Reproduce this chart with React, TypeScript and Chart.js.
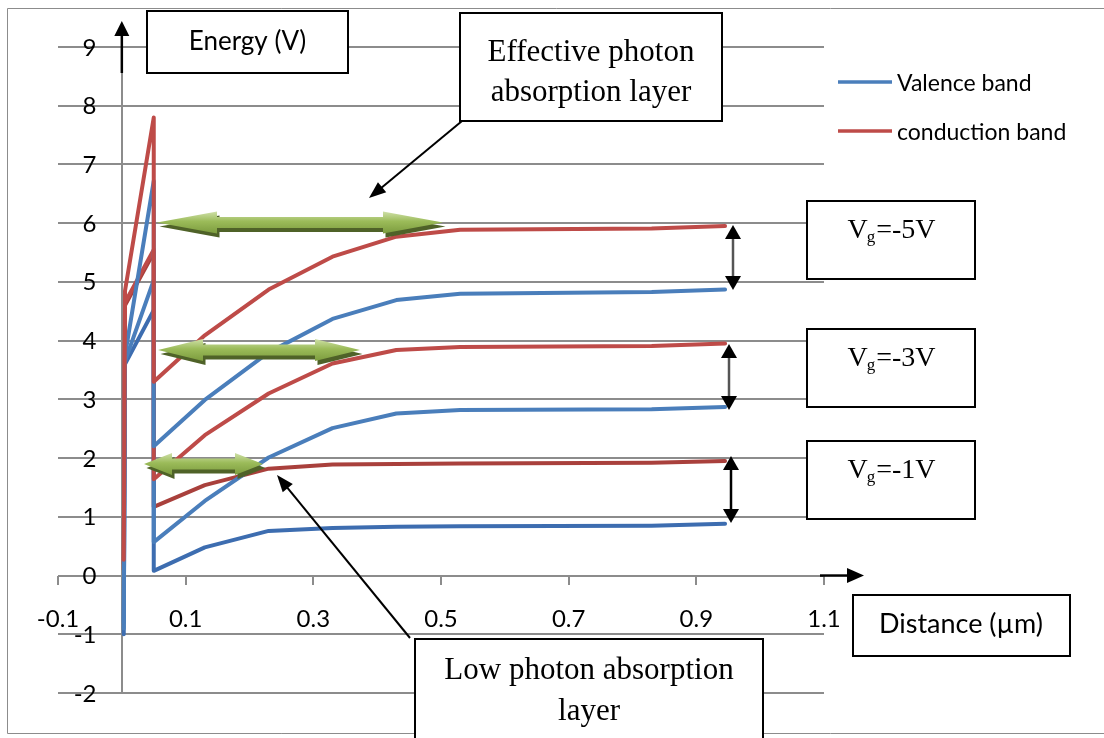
import React, { useEffect, useRef } from "react";
import { Chart, registerables } from "chart.js";

Chart.register(...registerables);

// ---------- data ----------
const xPositions = [0.003, 0.005, 0.05, 0.05, 0.13, 0.23, 0.33, 0.43, 0.53, 0.83, 0.945];

const conductionVg5 = [0.27, 4.85, 7.8, 3.3, 4.09, 4.87, 5.43, 5.77, 5.89, 5.91, 5.95];
const valenceVg5 = [-0.8, 3.75, 6.72, 2.2, 2.99, 3.8, 4.37, 4.69, 4.8, 4.83, 4.87];
const conductionVg3 = [0.2, 4.65, 5.55, 1.64, 2.39, 3.1, 3.61, 3.84, 3.89, 3.91, 3.95];
const valenceVg3 = [-0.9, 3.65, 5.03, 0.57, 1.27, 2.01, 2.51, 2.76, 2.82, 2.83, 2.87];
const conductionVg1 = [0.1, 4.6, 5.5, 1.17, 1.54, 1.82, 1.89, 1.9, 1.91, 1.92, 1.95];
const valenceVg1 = [-1.0, 3.6, 4.52, 0.08, 0.48, 0.76, 0.81, 0.83, 0.84, 0.85, 0.88];

const xTickValues = [-0.1, 0.1, 0.3, 0.5, 0.7, 0.9, 1.1];
const xTickLabels = ["-0.1", "0.1", "0.3", "0.5", "0.7", "0.9", "1.1"];
const yTickValues = [-2, -1, 0, 1, 2, 3, 4, 5, 6, 7, 8, 9];
const legendLabels = ["Valence band", "conduction band"];
const gateVoltages = ["-5V", "-3V", "-1V"];

const BLUE = "#4a7ebb";
const BLUE_DARK = "#3d6db0";
const RED = "#be4b48";
const RED_DARK = "#a9403c";

const SANS = "Lato, 'Open Sans', sans-serif";
const SERIF = "'Liberation Serif', 'DejaVu Serif', 'Times New Roman', serif";

const toPoints = (ys: number[]) => xPositions.map((x, i) => ({ x, y: ys[i] }));

function drawBox(ctx: CanvasRenderingContext2D, x: number, y: number, w: number, h: number) {
  ctx.save();
  ctx.fillStyle = "#ffffff";
  ctx.fillRect(x, y, w, h);
  ctx.strokeStyle = "#000000";
  ctx.lineWidth = 2;
  ctx.strokeRect(x, y, w, h);
  ctx.restore();
}

function head(ctx: CanvasRenderingContext2D, tx: number, ty: number, ang: number, len: number, wid: number) {
  const bx = tx - len * Math.cos(ang);
  const by = ty - len * Math.sin(ang);
  const nx = -Math.sin(ang) * (wid / 2);
  const ny = Math.cos(ang) * (wid / 2);
  ctx.beginPath();
  ctx.moveTo(tx, ty);
  ctx.lineTo(bx + nx, by + ny);
  ctx.lineTo(bx - nx, by - ny);
  ctx.closePath();
  ctx.fill();
}

function pointer(ctx: CanvasRenderingContext2D, x1: number, y1: number, x2: number, y2: number, len: number, wid: number, lineColor: string, headColor: string, lw: number, both = false) {
  const ang = Math.atan2(y2 - y1, x2 - x1);
  ctx.save();
  ctx.strokeStyle = lineColor;
  ctx.lineWidth = lw;
  ctx.beginPath();
  const sx = both ? x1 + (len - 2) * Math.cos(ang) : x1;
  const sy = both ? y1 + (len - 2) * Math.sin(ang) : y1;
  ctx.moveTo(sx, sy);
  ctx.lineTo(x2 - (len - 2) * Math.cos(ang), y2 - (len - 2) * Math.sin(ang));
  ctx.stroke();
  ctx.fillStyle = headColor;
  head(ctx, x2, y2, ang, len, wid);
  if (both) head(ctx, x1, y1, ang + Math.PI, len, wid);
  ctx.restore();
}

function greenArrowPath(ctx: CanvasRenderingContext2D, xL: number, xR: number, yc: number, hl: number, hh: number, sh: number) {
  ctx.beginPath();
  ctx.moveTo(xL, yc);
  ctx.lineTo(xL + hl, yc - hh / 2);
  ctx.lineTo(xL + hl, yc - sh / 2);
  ctx.lineTo(xR - hl, yc - sh / 2);
  ctx.lineTo(xR - hl, yc - hh / 2);
  ctx.lineTo(xR, yc);
  ctx.lineTo(xR - hl, yc + hh / 2);
  ctx.lineTo(xR - hl, yc + sh / 2);
  ctx.lineTo(xL + hl, yc + sh / 2);
  ctx.lineTo(xL + hl, yc + hh / 2);
  ctx.closePath();
}

function greenArrow(ctx: CanvasRenderingContext2D, xL: number, xR: number, yc: number, hl: number) {
  const hh = 22;
  const sh = 11;
  ctx.save();
  ctx.translate(2.5, 4);
  greenArrowPath(ctx, xL, xR, yc, hl, hh, sh);
  ctx.fillStyle = "#4f6228";
  ctx.fill();
  ctx.restore();
  ctx.save();
  greenArrowPath(ctx, xL, xR, yc, hl, hh, sh);
  const g = ctx.createLinearGradient(0, yc - hh / 2, 0, yc + hh / 2);
  g.addColorStop(0, "#cfe0a8");
  g.addColorStop(0.45, "#9bbb59");
  g.addColorStop(1, "#7c9c3e");
  ctx.fillStyle = g;
  ctx.fill();
  ctx.restore();
}

const decorPlugin = {
  id: "decor",
  beforeDraw(chart: any) {
    const ctx: CanvasRenderingContext2D = chart.ctx;
    ctx.save();
    ctx.fillStyle = "#ffffff";
    ctx.fillRect(0, 0, chart.width, chart.height);
    ctx.strokeStyle = "#8c8c8c";
    ctx.lineWidth = 1;
    ctx.beginPath();
    ctx.moveTo(1110, 8.5);
    ctx.lineTo(7.5, 8.5);
    ctx.lineTo(7.5, 733.5);
    ctx.lineTo(1110, 733.5);
    ctx.stroke();
    ctx.restore();
  },
  beforeDatasetsDraw(chart: any) {
    const ctx: CanvasRenderingContext2D = chart.ctx;
    const xs = chart.scales.x;
    const ys = chart.scales.y;
    const x0 = Math.round(xs.getPixelForValue(0));
    const y0 = Math.round(ys.getPixelForValue(0));
    ctx.save();
    ctx.strokeStyle = "#8c8c8c";
    ctx.lineWidth = 2;
    ctx.beginPath();
    ctx.moveTo(x0, ys.getPixelForValue(-2) + 1);
    ctx.lineTo(x0, ys.getPixelForValue(9) - 1);
    for (const v of xTickValues) {
      const p = Math.round(xs.getPixelForValue(v));
      ctx.moveTo(p, y0);
      ctx.lineTo(p, y0 + 9);
    }
    ctx.stroke();
    ctx.restore();
  },
  afterDatasetsDraw(chart: any) {
    const ctx: CanvasRenderingContext2D = chart.ctx;
    const xs = chart.scales.x;
    const ys = chart.scales.y;
    const x0 = xs.getPixelForValue(0);
    const y0 = ys.getPixelForValue(0);

    // tick labels
    ctx.save();
    ctx.fillStyle = "#000000";
    ctx.font = `24px ${SANS}`;
    ctx.textBaseline = "alphabetic";
    ctx.textAlign = "right";
    for (const v of yTickValues) {
      ctx.fillText(String(v), 96.5, ys.getPixelForValue(v) + 8.5);
    }
    ctx.textAlign = "center";
    xTickValues.forEach((v, i) => {
      ctx.fillText(xTickLabels[i], xs.getPixelForValue(v), y0 + 51);
    });
    ctx.restore();

    // axis arrows
    pointer(ctx, x0, 73, x0, 21, 15, 15, "#000", "#000", 2.5);
    pointer(ctx, 820, y0, 864, y0, 17, 15, "#000", "#000", 2.5);

    // legend
    ctx.save();
    const legendColors = [BLUE, RED];
    const legendY = [82, 131];
    legendLabels.forEach((t, i) => {
      ctx.strokeStyle = legendColors[i];
      ctx.lineWidth = 3.5;
      ctx.beginPath();
      ctx.moveTo(838, legendY[i]);
      ctx.lineTo(892, legendY[i]);
      ctx.stroke();
      ctx.fillStyle = "#000";
      ctx.font = `23px ${SANS}`;
      ctx.textAlign = "left";
      ctx.textBaseline = "alphabetic";
      ctx.fillText(t, 897, legendY[i] + 8.5);
    });
    ctx.restore();

    // axis title boxes
    drawBox(ctx, 147, 11, 201, 62);
    drawBox(ctx, 853, 595, 217, 61);
    ctx.save();
    ctx.fillStyle = "#000";
    ctx.textAlign = "center";
    ctx.textBaseline = "alphabetic";
    ctx.font = `26px ${SANS}`;
    ctx.fillText("Energy (V)", 247.5, 49.5);
    ctx.font = `27px ${SANS}`;
    ctx.fillText("Distance (\u00b5m)", 961, 633);
    ctx.restore();

    // green double arrows
    greenArrow(ctx, 157, 443, 222.5, 60);
    greenArrow(ctx, 158, 360, 350, 45);
    greenArrow(ctx, 144, 263, 464, 28);

    // band-gap double arrows
    pointer(ctx, 733, 225, 733, 290, 14, 16, "#555", "#000", 2.5, true);
    pointer(ctx, 729, 344, 729, 410, 14, 16, "#555", "#000", 2.5, true);
    pointer(ctx, 731, 456, 731, 523, 14, 16, "#000", "#000", 2.5, true);

    // gate voltage boxes
    const boxTops = [201, 329, 441];
    gateVoltages.forEach((gv, i) => {
      drawBox(ctx, 807, boxTops[i], 168, 78);
      ctx.save();
      ctx.fillStyle = "#000";
      ctx.textBaseline = "alphabetic";
      ctx.textAlign = "left";
      const base = boxTops[i] + 37;
      ctx.font = `28px ${SERIF}`;
      const wV = ctx.measureText("V").width;
      const rest = "=" + gv;
      const wRest = ctx.measureText(rest).width;
      ctx.font = `17px ${SERIF}`;
      const wg = ctx.measureText("g").width;
      const total = wV + wg + wRest;
      let x = 891.5 - total / 2;
      ctx.font = `28px ${SERIF}`;
      ctx.fillText("V", x, base);
      x += wV - 1;
      ctx.font = `17px ${SERIF}`;
      ctx.fillText("g", x, base + 4);
      x += wg + 1;
      ctx.font = `28px ${SERIF}`;
      ctx.fillText(rest, x, base);
      ctx.restore();
    });

    // annotation boxes and pointers
    drawBox(ctx, 460, 13, 262, 108);
    drawBox(ctx, 415, 639, 348, 130);
    ctx.save();
    ctx.fillStyle = "#000";
    ctx.textAlign = "center";
    ctx.textBaseline = "alphabetic";
    ctx.font = `31px ${SERIF}`;
    ctx.fillText("Effective photon", 591, 61);
    ctx.fillText("absorption layer", 591, 101);
    ctx.fillText("Low photon absorption", 589, 679);
    ctx.fillText("layer", 589, 720);
    ctx.restore();

    pointer(ctx, 462, 121, 369, 198, 17, 13, "#000", "#000", 2);
    pointer(ctx, 410, 638, 277, 475, 17, 13, "#000", "#000", 2);
  },
};

export default function App() {
  const ref = useRef<HTMLCanvasElement>(null);

  useEffect(() => {
    const canvas = ref.current;
    if (!canvas) return;
    const line = (label: string, data: number[], color: string) => ({
      label,
      data: toPoints(data),
      borderColor: color,
      backgroundColor: color,
      borderWidth: 4,
      pointRadius: 0,
      showLine: true,
      tension: 0,
      borderCapStyle: "round" as const,
      borderJoinStyle: "round" as const,
    });
    const chart = new Chart(canvas, {
      type: "scatter",
      data: {
        datasets: [
          line("conduction band", conductionVg5, RED),
          line("Valence band", valenceVg5, BLUE),
          line("conduction band", conductionVg3, RED),
          line("Valence band", valenceVg3, BLUE),
          line("Valence band", valenceVg1, BLUE_DARK),
          line("conduction band", conductionVg1, RED_DARK),
        ],
      },
      options: {
        animation: false,
        responsive: false,
        devicePixelRatio: 1,
        layout: { padding: { left: 58, right: 280, top: 47, bottom: 45 } },
        plugins: {
          legend: { display: false },
          tooltip: { enabled: false },
          title: { display: false },
        },
        scales: {
          x: {
            type: "linear",
            min: -0.1,
            max: 1.1,
            display: true,
            grid: { display: false, drawTicks: false },
            border: { display: false },
            ticks: { display: false },
            afterBuildTicks: (scale: any) => {
              scale.ticks = xTickValues.map((v) => ({ value: v }));
            },
          },
          y: {
            type: "linear",
            min: -2,
            max: 9,
            display: true,
            grid: { color: "#8c8c8c", lineWidth: 2, drawTicks: false },
            border: { display: false },
            ticks: { display: false, stepSize: 1 },
          },
        },
      },
      plugins: [decorPlugin],
    });
    return () => chart.destroy();
  }, []);

  return (
    <div style={{ position: "fixed", left: 0, top: 0, width: 1104, height: 738, background: "#fff" }}>
      <canvas ref={ref} width={1104} height={738} style={{ display: "block", width: 1104, height: 738 }} />
    </div>
  );
}
